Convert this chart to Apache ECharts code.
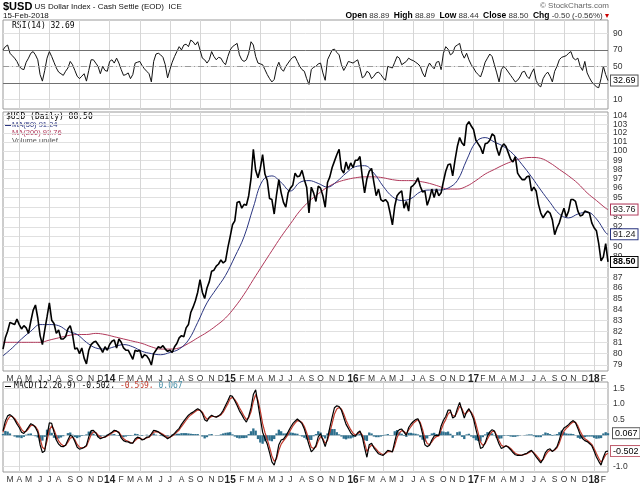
<!DOCTYPE html>
<html><head><meta charset="utf-8">
<script src="https://cdn.jsdelivr.net/npm/echarts@6/dist/echarts.min.js"></script>
<style>html,body{margin:0;padding:0;background:#fff}#c{width:640px;height:490px}</style>
</head><body><div id="c"></div>
<script>
// ---------- DATA ----------
const firstWeek = '2013-02-14';   // weekly samples (Thursdays) through 2018-02-15
const weekCount = 262;

// weekly closes, $USD
const price2013 = [80.4,81.4,82.0, 82.8,82.7,82.6,83.1, 82.6,82.2,82.5,82.3, 81.8,82.9,83.9,84.4,83.2, 81.6,80.8,82.1,83.3, 84.6,83.0,82.7,81.8, 82.1,81.3,81.3,81.5,82.2, 82.5,81.7,80.4,80.5, 80.0,80.5,79.6,79.1,80.3, 80.8,81.0,81.1,80.8, 80.5,80.1,80.6,80.3];
const price2014 = [80.8,81.1,81.2,80.5,81.3, 81.0,80.5,80.3,80.3, 79.9,79.5,80.3,80.2, 80.3,79.6,79.9,79.8, 79.5,79.0,80.0,80.3,80.6, 80.5,80.7,80.4,80.2, 80.3,80.1,80.6,80.9,81.4, 81.6,81.5,82.3,82.6, 83.7,84.2,84.8,85.6, 86.8,85.6,85.0,86.0,86.6, 87.6,87.7,88.1,88.3, 88.7,88.4,88.6,89.9];
const price2015 = [91.0,92.2,92.6,94.5,94.6, 93.9,94.3,94.2,95.2, 97.0,100.2,97.9,97.1, 98.1,99.6,97.5,96.8,94.9, 94.8,93.3,95.3,96.9, 95.5,94.5,94.0,95.5, 96.0,96.3,97.6,97.2,97.3, 97.9,96.9,96.1,93.4, 96.1,95.5,94.6,96.2, 96.0,95.2,94.0,96.6,97.2, 98.2,98.9,99.6,100.2, 98.0,97.6,98.8,98.0,98.7];
const price2016 = [98.2,99.0,99.0,99.4, 97.2,95.5,97.0,97.8, 98.1,96.6,95.2,95.9,94.8, 94.6,94.8,94.5,93.4, 92.2,94.1,95.2,95.5, 95.7,93.9,94.6,93.6,96.1, 96.3,96.6,97.1,96.2, 95.6,95.7,94.2,94.9, 95.9,95.0,95.9,95.2,95.5, 96.7,97.8,98.5,98.6, 97.3,99.0,100.5,101.5, 100.9,100.6,102.9,103.3,102.8];
const price2017 = [102.4,101.2,100.8,100.4, 99.7,100.8,100.9,101.2, 101.9,101.7,100.3,99.5,100.4, 100.8,100.5,99.8,99.1, 98.8,99.4,97.6,97.2, 96.9,96.9,97.2,97.3,95.7, 96.1,95.7,94.3,93.4, 92.9,93.3,93.6,93.4,92.7, 91.2,91.9,92.4,93.2, 93.9,93.0,93.6,94.8, 94.8,94.6,93.6,93.1,93.2, 93.6,93.5,93.4,92.4];
const price2018 = [91.9,91.6,90.3,88.6,89.0,90.3,88.5];

// moving averages, sampled every 4 weeks (last point = final week)
const maStep = 4;
const ma50 = [79.8,80.5,81.3,82.0,82.6,82.6,82.5,82.0,81.7,81.0, 80.5,80.4,80.6,80.8,80.6,80.2,80.0,79.9,80.1,80.4, 81.2,82.8,84.6,85.9,87.2,89.0,91.0,94.0,96.8,97.3, 96.6,95.7,96.6,96.8,96.5,96.1,96.7,97.6,98.3,98.4, 97.6,96.2,95.1,94.7,94.9,95.6,95.8,95.8,96.0,96.8, 99.0,101.0,101.5,101.0,100.5,99.7,98.5,97.2,95.8,94.5, 93.3,92.9,93.3,93.5,92.8,91.4,91.24];
const ma200 = [81.0,81.0,81.0,81.0,81.0,81.2,81.4,81.6,81.7,81.7, 81.8,81.7,81.5,81.3,81.1,80.9,80.6,80.4,80.4,80.5, 80.9,81.4,81.9,82.5,83.2,84.2,85.4,86.8,88.2,89.6, 91.0,92.3,93.6,94.6,95.4,96.1,96.6,96.9,97.1,97.2, 97.2,97.1,96.9,96.8,96.8,96.7,96.5,96.2,95.9,95.9, 96.2,96.8,97.5,98.0,98.5,98.9,99.2,99.3,99.2,98.7, 98.0,97.3,96.5,95.5,94.7,93.9,93.76];

// RSI(14), weekly
const rsi2013 = [70,74,76,66,63,60,56,50,47,46, 55,60,66,68,64,58,40,32,45,60, 68,62,55,48,43,41,39,44,48,56, 52,45,38,35,38,41,32,45,58,58, 54,50,41,50,45,44];
const rsi2014 = [56,58,54,60,54,46,39,40,42,35, 40,54,55,56,51,47,44,41,31,56, 65,66,64,61,52,36,46,55,62,68, 74,70,76,77,74,82,80,76,80,70, 60,58,54,58,68,62,58,61,60,55, 52,62];
const rsi2015 = [70,74,76,78,64,58,56,58,66,80, 76,62,54,53,52,46,40,35,31,34, 48,55,47,44,50,54,58,61,62,56, 50,46,44,35,28,46,49,50,53,54, 42,33,58,64,70,71,67,64,52,45, 50,56,55];
const rsi2016 = [54,56,58,48,36,38,44,42,35,38, 42,43,40,36,33,50,49,48,55,62, 60,52,54,56,60,58,57,55,53,50, 42,37,48,54,50,47,55,56,46,66, 74,71,64,66,74,76,78,66,60,66, 58,52];
const rsi2017 = [48,43,40,37,45,55,60,65,62,52, 42,31,46,50,47,43,39,35,31,33, 37,43,44,38,35,42,47,33,27,25, 35,40,43,38,31,44,50,58,61,62, 63,66,68,60,58,60,50,45,56,42, 36,31];
const rsi2018 = [28,25,24,35,50,40,32.69];

// MACD(12,26,9), weekly
const macd2013 = [0.14,0.45,0.62,0.66,0.6,0.5,0.36,0.25,0.1,0.06, 0.15,0.26,0.37,0.33,0.25,0.1,-0.3,-0.55,-0.5,0.0, 0.4,0.38,0.1,-0.15,-0.28,-0.35,-0.36,-0.32,-0.15,0.0, -0.04,-0.2,-0.38,-0.44,-0.42,-0.38,-0.32,-0.05,0.15,0.16, 0.08,-0.05,-0.11,-0.08,-0.05,0.0];
const macd2014 = [0.05,0.1,0.16,0.14,0.08,-0.08,-0.17,-0.2,-0.21,-0.25, -0.25,-0.12,-0.06,-0.08,-0.15,-0.12,-0.06,-0.05,0.05,0.16, 0.14,0.11,0.05,0.0,-0.05,-0.11,-0.06,0.0,0.06,0.15, 0.22,0.35,0.45,0.55,0.64,0.7,0.74,0.8,0.85,0.8, 0.7,0.5,0.45,0.58,0.64,0.6,0.58,0.62,0.68,0.8, 0.95,1.1];
const macd2015 = [1.27,1.24,1.1,0.95,0.78,0.66,0.52,0.42,0.6,0.88, 1.3,1.45,1.0,0.55,0.1,-0.1,-0.28,-0.55,-0.85,-0.95, -0.69,-0.3,-0.15,-0.12,-0.02,0.11,0.25,0.37,0.45,0.52, 0.45,0.37,0.2,-0.05,-0.3,-0.53,-0.45,-0.33,-0.05,0.05, -0.15,-0.36,-0.1,0.25,0.58,0.88,0.94,0.92,0.8,0.57, 0.35,0.22,0.08];
const macd2016 = [0.0,-0.03,0.08,0.14,-0.05,-0.4,-0.7,-0.3,-0.25,-0.4, -0.5,-0.59,-0.62,-0.64,-0.56,-0.48,-0.5,-0.53,-0.2,0.1, 0.18,0.2,0.1,0.0,0.25,0.36,0.44,0.5,0.53,0.35, 0.05,-0.3,-0.36,-0.32,-0.15,-0.02,0.0,0.0,0.3,0.48, 0.6,0.8,0.8,0.55,0.6,0.85,1.05,0.8,0.55,0.75, 0.85,0.7];
const macd2017 = [0.52,0.2,-0.1,-0.42,-0.38,-0.24,-0.02,0.11,0.18,0.14, -0.08,-0.28,-0.42,-0.38,-0.33,-0.38,-0.46,-0.55,-0.62,-0.64, -0.64,-0.63,-0.6,-0.57,-0.52,-0.48,-0.58,-0.69,-0.78,-0.88, -0.75,-0.55,-0.46,-0.43,-0.52,-0.45,-0.36,-0.15,0.12,0.23, 0.28,0.34,0.42,0.47,0.4,0.22,0.02,-0.1,-0.17,-0.2, -0.26,-0.33];
const macd2018 = [-0.5,-0.69,-0.83,-0.95,-0.7,-0.52,-0.502];

const signal2013 = [0.1,0.31,0.5,0.6,0.6,0.54,0.43,0.32,0.19,0.11, 0.13,0.21,0.31,0.32,0.28,0.17,-0.11,-0.38,-0.45,-0.18, 0.17,0.3,0.18,-0.02,-0.18,-0.28,-0.33,-0.32,-0.22,-0.09, -0.06,-0.14,-0.29,-0.38,-0.4,-0.39,-0.35,-0.17,0.02,0.11, 0.09,0.01,-0.06,-0.07,-0.06,-0.02];
const signal2014 = [0.02,0.07,0.12,0.13,0.1,-0.01,-0.11,-0.16,-0.19,-0.23, -0.24,-0.17,-0.1,-0.09,-0.13,-0.12,-0.08,-0.06,0.01,0.1, 0.12,0.11,0.07,0.03,-0.02,-0.07,-0.06,-0.02,0.03,0.1, 0.17,0.28,0.38,0.48,0.58,0.65,0.7,0.76,0.81,0.8, 0.74,0.6,0.51,0.55,0.6,0.6,0.59,0.61,0.65,0.74, 0.87,1.01];
const signal2015 = [1.17,1.21,1.14,1.03,0.88,0.75,0.61,0.5,0.56,0.75, 1.08,1.3,1.12,0.78,0.37,0.09,-0.13,-0.38,-0.66,-0.83, -0.75,-0.48,-0.28,-0.18,-0.08,0.03,0.16,0.29,0.39,0.47, 0.46,0.41,0.28,0.08,-0.15,-0.38,-0.42,-0.37,-0.18,-0.04, -0.11,-0.26,-0.16,0.09,0.38,0.68,0.84,0.89,0.84,0.68, 0.48,0.32,0.18];
const signal2016 = [0.07,0.01,0.05,0.1,0.01,-0.24,-0.52,-0.39,-0.31,-0.36, -0.44,-0.53,-0.58,-0.62,-0.58,-0.52,-0.51,-0.52,-0.33,-0.07, 0.08,0.15,0.12,0.05,0.17,0.28,0.38,0.45,0.5,0.41, 0.19,-0.1,-0.26,-0.3,-0.21,-0.1,-0.04,-0.02,0.17,0.36, 0.5,0.68,0.75,0.63,0.61,0.75,0.93,0.85,0.67,0.72, 0.8,0.74];
const signal2017 = [0.61,0.36,0.08,-0.22,-0.32,-0.27,-0.12,0.02,0.12,0.13, 0.0,-0.17,-0.32,-0.36,-0.34,-0.36,-0.42,-0.5,-0.57,-0.61, -0.63,-0.63,-0.61,-0.59,-0.55,-0.51,-0.55,-0.63,-0.72,-0.82, -0.78,-0.64,-0.53,-0.47,-0.5,-0.47,-0.4,-0.25,-0.03,0.13, 0.22,0.29,0.37,0.43,0.41,0.3,0.13,-0.01,-0.11,-0.16, -0.22,-0.29];
const signal2018 = [-0.42,-0.58,-0.73,-0.86,-0.76,-0.62,-0.569];

const hist2013 = [0.04,0.14,0.12,0.06,0,-0.04,-0.07,-0.07,-0.09,-0.05, 0.02,0.05,0.06,0.01,-0.03,-0.07,-0.19,-0.17,-0.05,0.18, 0.23,0.08,-0.08,-0.13,-0.1,-0.07,-0.03,0,0.07,0.09, 0.02,-0.06,-0.09,-0.06,-0.02,0.01,0.03,0.12,0.13,0.05, -0.01,-0.06,-0.05,-0.01,0.01,0.02];
const hist2014 = [0.03,0.03,0.04,0.01,-0.02,-0.07,-0.06,-0.04,-0.02,-0.02, -0.01,0.05,0.04,0.01,-0.02,0,0.02,0.01,0.04,0.06, 0.02,0,-0.02,-0.03,-0.03,-0.04,0,0.02,0.03,0.05, 0.05,0.07,0.07,0.07,0.06,0.05,0.04,0.04,0.04,0, -0.04,-0.1,-0.06,0.03,0.04,0,-0.01,0.01,0.03,0.06, 0.08,0.09];
const hist2015 = [0.1,0.03,-0.04,-0.08,-0.1,-0.09,-0.09,-0.08,0.04,0.13, 0.22,0.15,-0.12,-0.23,-0.27,-0.19,-0.15,-0.17,-0.19,-0.12, 0.06,0.18,0.13,0.06,0.06,0.08,0.09,0.08,0.06,0.05, -0.01,-0.04,-0.08,-0.13,-0.15,-0.15,-0.03,0.04,0.13,0.09, -0.04,-0.1,0.06,0.16,0.2,0.2,0.1,0.03,-0.04,-0.11, -0.13,-0.1,-0.1];
const hist2016 = [-0.07,-0.04,0.03,0.04,-0.06,-0.16,-0.18,0.09,0.06,-0.04, -0.06,-0.06,-0.04,-0.02,0.02,0.04,0.01,-0.01,0.13,0.17, 0.1,0.05,-0.02,-0.05,0.08,0.08,0.06,0.05,0.03,-0.06, -0.14,-0.2,-0.1,-0.02,0.06,0.08,0.04,0.02,0.13,0.12, 0.1,0.12,0.05,-0.08,-0.01,0.1,0.12,-0.05,-0.12,0.03, 0.05,-0.04];
const hist2017 = [-0.09,-0.16,-0.18,-0.2,-0.06,0.03,0.1,0.09,0.06,0.01, -0.08,-0.11,-0.1,-0.02,0.01,-0.02,-0.04,-0.05,-0.05,-0.03, -0.01,0,0.01,0.02,0.03,0.03,-0.03,-0.06,-0.06,-0.06, 0.03,0.09,0.07,0.04,-0.02,0.02,0.04,0.1,0.15,0.1, 0.06,0.05,0.05,0.04,-0.01,-0.08,-0.11,-0.09,-0.06,-0.04, -0.04,-0.04];
const hist2018 = [-0.08,-0.11,-0.1,-0.09,0.06,0.1,0.067];

// axis ticks / labels
const monthLetters = ['J','F','M','A','M','J','J','A','S','O','N','D'];
const rsiTicks = [10,30,50,70,90];
const rsiLabels = [10,50,70,90];
const priceTicks = [79,80,81,82,83,84,85,86,87,88,89,90,91,92,93,94,95,96,97,98,99,100,101,102,103,104];
const priceLabelsOdd = [79,81,83,85,87,89,93,95,97,99,101,103];
const priceLabelsEven = [80,82,84,86,90,92,96,98,100,102,104];
const macdTicks = [-1,-0.5,0,0.5,1,1.5];
const macdLabels = [-1,0.5,1,1.5];

// ---------- BUILD ----------
const price = [].concat(price2013,price2014,price2015,price2016,price2017,price2018);
const rsi = [].concat(rsi2013,rsi2014,rsi2015,rsi2016,rsi2017,rsi2018);
const macd = [].concat(macd2013,macd2014,macd2015,macd2016,macd2017,macd2018);
const signal = [].concat(signal2013,signal2014,signal2015,signal2016,signal2017,signal2018);
const hist = [].concat(hist2013,hist2014,hist2015,hist2016,hist2017,hist2018);

const t0 = Date.parse(firstWeek + 'T00:00:00Z');
const dates = [];
for (let i = 0; i < weekCount; i++) dates.push(new Date(t0 + i*7*86400000).toISOString().slice(0,10));
const last = weekCount - 1;
const maPairs = arr => arr.map((v,k) => [dates[Math.min(k*maStep, last)], v]);

const monthOf = i => +dates[i].slice(5,7) - 1;
const isMonthStart = i => i > 0 && monthOf(i) !== monthOf(i-1);
const isQuarterStart = i => isMonthStart(i) && monthOf(i) % 3 === 0;

const FONT = '"Liberation Sans",Arial,sans-serif';
const MONO = '"DejaVu Sans Mono","Liberation Mono",monospace';
const gridLine = '#e0e0e0';

function xAxisFor(gi, showLabels) {
  return {
    type:'category', gridIndex:gi, data:dates, boundaryGap:false,
    axisLine:{show:false}, axisTick:{show:false},
    axisLabel:{
      show:showLabels, interval:(idx)=>isMonthStart(idx), margin:3, hideOverlap:false,
      fontSize:8.5, color:'#333', fontFamily:FONT,
      formatter:(v)=>{ const m = +v.slice(5,7)-1; return m===0 ? '{y|'+v.slice(2,4)+'}' : monthLetters[m]; },
      rich:{y:{fontWeight:'bold', fontSize:10, color:'#222', fontFamily:FONT}}
    },
    splitLine:{show:true, interval:(idx)=>isQuarterStart(idx), lineStyle:{color:'#d6d6d6', width:1}}
  };
}
function yLabel(values, extra) {
  return Object.assign({customValues:values, hideOverlap:false, showMaxLabel:true, showMinLabel:true,
    fontSize:8.5, color:'#333', fontFamily:FONT, margin:5}, extra||{});
}
function priceAxis(labels, withLines) {
  return {type:'log', logBase:10, gridIndex:1, position:'right', min:78.48, max:104.4,
    axisLine:{show:false}, axisTick:{show:false, customValues:priceTicks},
    axisLabel:yLabel(labels),
    splitLine:{show:withLines, lineStyle:{color:gridLine}}};
}
function boxLabel(text, border, color) {
  return {show:true, formatter:text, fontSize:9, fontFamily:FONT, color:color||'#000',
    backgroundColor:'#fff', borderColor:border, borderWidth:1, padding:[1,2,0,2], distance:3};
}

const chart = echarts.init(document.getElementById('c'), null, {renderer:'canvas'});
chart.setOption({
  animation:false,
  backgroundColor:'#fff',
  grid:[
    {left:3, top:20, width:605, height:89, show:true, borderColor:'#9a9a9a', borderWidth:1},
    {left:3, top:112, width:605, height:259, show:true, borderColor:'#9a9a9a', borderWidth:1},
    {left:3, top:382, width:605, height:90, show:true, borderColor:'#9a9a9a', borderWidth:1}
  ],
  xAxis:[xAxisFor(0,false), xAxisFor(1,true), xAxisFor(2,true)],
  yAxis:[
    {type:'value', gridIndex:0, position:'right', min:-2, max:106.5,
     axisLine:{show:false}, axisTick:{show:false, customValues:rsiTicks},
     axisLabel:yLabel(rsiLabels),
     splitLine:{show:true, lineStyle:{color:gridLine}}},
    priceAxis(priceLabelsOdd, true),
    {type:'value', gridIndex:2, position:'right', min:-1.17, max:1.7,
     axisLine:{show:false}, axisTick:{show:false, customValues:macdTicks},
     axisLabel:yLabel(macdLabels, {formatter:(v)=>v.toFixed(1)}),
     splitLine:{show:true, lineStyle:{color:gridLine}}},
    priceAxis(priceLabelsEven, false)
  ],
  series:[
    {type:'line', name:'RSI', xAxisIndex:0, yAxisIndex:0, data:rsi, showSymbol:false, silent:true,
     lineStyle:{color:'#111', width:1}, z:3,
     endLabel:boxLabel('32.69','#555','#000'),
     markLine:{silent:true, symbol:'none', label:{show:false},
       data:[{yAxis:70, lineStyle:{color:'#707070', type:'solid', width:1}},
             {yAxis:30, lineStyle:{color:'#707070', type:'solid', width:1}},
             {yAxis:50, lineStyle:{color:'#9a9a9a', type:[6,3,1,3], width:1}}]}},
    {type:'line', name:'MA200', xAxisIndex:1, yAxisIndex:1, data:maPairs(ma200), showSymbol:false, silent:true,
     smooth:0.4, lineStyle:{color:'#b0385a', width:1}, z:2,
     endLabel:boxLabel('93.76','#b0385a','#222')},
    {type:'line', name:'MA50', xAxisIndex:1, yAxisIndex:1, data:maPairs(ma50), showSymbol:false, silent:true,
     smooth:0.4, lineStyle:{color:'#2a3580', width:1}, z:2,
     endLabel:boxLabel('91.24','#2a3580','#222')},
    {type:'line', name:'$USD', xAxisIndex:1, yAxisIndex:1, data:price, showSymbol:false, silent:true,
     lineStyle:{color:'#000', width:1.6}, z:3,
     endLabel:Object.assign(boxLabel('88.50','#000','#000'),{fontWeight:'bold'})},
    {type:'bar', name:'Hist', xAxisIndex:2, yAxisIndex:2, data:hist, silent:true,
     barWidth:'100%', barCategoryGap:'0%', itemStyle:{color:'#2d6f8d'}, z:2,
     markPoint:{silent:true, symbol:'rect', symbolSize:0,
       data:[{coord:[dates[last], hist[last]], value:hist[last]}],
       label:{show:true, position:'right', distance:5, formatter:'0.067', fontSize:9, fontFamily:FONT,
         color:'#000', backgroundColor:'#fff', borderColor:'#555', borderWidth:1, padding:[1,2,0,2]}}},
    {type:'line', name:'Signal', xAxisIndex:2, yAxisIndex:2, data:signal, showSymbol:false, silent:true,
     lineStyle:{color:'#c0392b', width:1.2}, z:3},
    {type:'line', name:'MACD', xAxisIndex:2, yAxisIndex:2, data:macd, showSymbol:false, silent:true,
     lineStyle:{color:'#000', width:1.2}, z:4,
     endLabel:boxLabel('-0.502','#c06070','#000')}
  ],
  graphic:[
    {type:'text', x:3, y:1, style:{
      text:'{b|$USD} US Dollar Index - Cash Settle (EOD)  ICE',
      font:'8px '+FONT, fill:'#111', textVerticalAlign:'top',
      rich:{b:{fontWeight:'bold', fontSize:11, fill:'#000', fontFamily:FONT}}}},
    {type:'text', x:3, y:12, style:{text:'15-Feb-2018', font:'8px '+FONT, fill:'#111', textVerticalAlign:'top'}},
    {type:'text', x:609, y:2, style:{text:'\u00a9 StockCharts.com', font:'8px '+FONT, fill:'#666', textAlign:'right', textVerticalAlign:'top'}},
    {type:'text', x:609, y:11, style:{
      text:'{b|Open} 88.89  {b|High} 88.89  {b|Low} 88.44  {b|Close} 88.50  {b|Chg} -0.50 (-0.56%) {r|\u25BE}',
      font:'8px '+FONT, fill:'#333', textAlign:'right', textVerticalAlign:'top',
      rich:{b:{fontWeight:'bold', fontSize:8.5, fill:'#000', fontFamily:FONT}, r:{fill:'#c00', fontSize:8}}}},
    {type:'text', x:12, y:22, style:{text:'RSI(14) 32.69', font:'8px '+MONO, fill:'#000', textVerticalAlign:'top'}},
    {type:'text', x:6, y:113, style:{text:'$USD (Daily) 88.50', font:'8px '+MONO, fill:'#000', textVerticalAlign:'top'}},
    {type:'rect', shape:{x:5, y:125, width:6, height:1}, style:{fill:'#2a3580'}},
    {type:'text', x:12, y:121, style:{text:'MA(50) 91.24', font:'7.5px '+FONT, fill:'#2a3580', textVerticalAlign:'top'}},
    {type:'rect', shape:{x:5, y:133, width:6, height:1}, style:{fill:'#b0385a'}},
    {type:'text', x:12, y:129, style:{text:'MA(200) 93.76', font:'7.5px '+FONT, fill:'#b0385a', textVerticalAlign:'top'}},
    {type:'text', x:12, y:137, style:{text:'Volume undef', font:'7.5px '+FONT, fill:'#555', textVerticalAlign:'top'}},
    {type:'rect', shape:{x:5, y:386, width:6, height:1}, style:{fill:'#000'}},
    {type:'text', x:14, y:382, style:{
      text:'MACD(12,26,9) -0.502, {r|-0.569,} {t|0.067}', font:'8px '+MONO, fill:'#000', textVerticalAlign:'top',
      rich:{r:{fill:'#c0392b', font:'8px '+MONO}, t:{fill:'#4a90a8', font:'8px '+MONO}}}}
  ]
});
</script></body></html>
